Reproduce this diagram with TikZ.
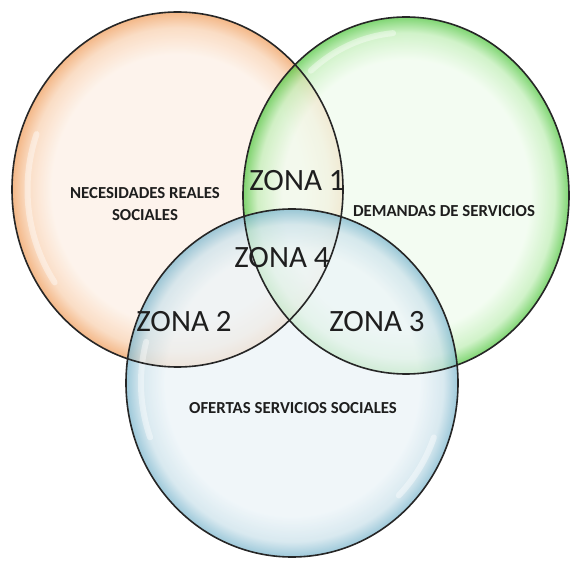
\documentclass[tikz,border=0pt]{standalone}
\usepackage{fontspec}
\setmainfont{Carlito}
\definecolor{oc}{HTML}{FDF0E6}
\definecolor{om}{HTML}{F9D2B2}
\definecolor{od}{HTML}{F0A060}
\definecolor{gc}{HTML}{F0FCEE}
\definecolor{gm}{HTML}{C2EFB8}
\definecolor{gd}{HTML}{55C844}
\definecolor{bc}{HTML}{ECF4F8}
\definecolor{bm}{HTML}{CCE2EB}
\definecolor{bd}{HTML}{7DB7CE}
\definecolor{txt}{HTML}{1E1E1E}
\pgfdeclareradialshading{obub}{\pgfpoint{0bp}{0bp}}{color(0bp)=(oc); color(19bp)=(oc); color(22.8bp)=(om); color(25bp)=(od); color(50bp)=(od)}
\pgfdeclareradialshading{gbub}{\pgfpoint{0bp}{0bp}}{color(0bp)=(gc); color(19bp)=(gc); color(22.8bp)=(gm); color(25bp)=(gd); color(50bp)=(gd)}
\pgfdeclareradialshading{bbub}{\pgfpoint{0bp}{0bp}}{color(0bp)=(bc); color(19bp)=(bc); color(22.8bp)=(bm); color(25bp)=(bd); color(50bp)=(bd)}
\tikzset{
  bubble/.style={fill opacity=0.75},
  rim/.style={draw=black!85, line width=1.6pt},
  gloss/.style={draw=white, line width=6pt, opacity=0.4, line cap=round},
  zona/.style={text=txt, font=\fontsize{31}{35}\selectfont, inner sep=0pt},
  lbl/.style={text=txt, font=\bfseries\fontsize{16.8}{22}\selectfont, align=center, inner sep=0pt}
}
\begin{document}
\begin{tikzpicture}[x=1pt,y=-1pt]
\useasboundingbox (0,0) rectangle (571,561);
\fill[white] (0,0) rectangle (571,561);
% fills
\path[bubble, shading=obub] (177.5,189.5) ellipse [x radius=165.5pt, y radius=177.5pt];
\path[bubble, shading=gbub] (406,195.5) ellipse [x radius=163pt, y radius=178.5pt];
\path[bubble, shading=bbub] (292,383) ellipse [x radius=166pt, y radius=174pt];
% gloss highlights
\draw[gloss] (177.5,189.5) ++(160:150pt and 162pt) arc [start angle=160, end angle=215, x radius=150pt, y radius=162pt];
\draw[gloss] (406,195.5) ++(95:148pt and 163pt) arc [start angle=95, end angle=130, x radius=148pt, y radius=163pt];
\draw[gloss] (292,383) ++(165:151pt and 159pt) arc [start angle=165, end angle=200, x radius=151pt, y radius=159pt];
\draw[gloss] (292,383) ++(-20:151pt and 159pt) arc [start angle=-20, end angle=-45, x radius=151pt, y radius=159pt];
% outlines
\draw[rim] (177.5,189.5) ellipse [x radius=165.5pt, y radius=177.5pt];
\draw[rim] (406,195.5) ellipse [x radius=163pt, y radius=178.5pt];
\draw[rim] (292,383) ellipse [x radius=166pt, y radius=174pt];
% labels
\node[lbl] (nec) at (145,204) {NECESIDADES REALES\\SOCIALES};
\node[lbl] (dem) at (444,211) {DEMANDAS DE SERVICIOS};
\node[lbl] (ofe) at (293,408) {OFERTAS SERVICIOS SOCIALES};
\node[zona] (z1) at (297,181) {ZONA 1};
\node[zona] (z4) at (282,258) {ZONA 4};
\node[zona] (z2) at (184,322) {ZONA 2};
\node[zona] (z3) at (377,322) {ZONA 3};
\end{tikzpicture}
\end{document}
